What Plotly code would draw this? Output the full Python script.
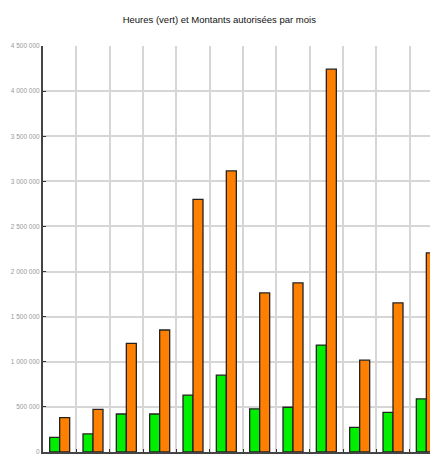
import plotly.graph_objects as go

months = ["2005-01", "2005-02", "2005-03", "2005-04", "2005-05", "2005-06",
          "2005-07", "2005-08", "2005-09", "2005-10", "2005-11", "2005-12"]
heures = [163000, 200000, 421000, 421000, 630000, 852000,
          478000, 496000, 1185000, 274000, 440000, 588000]
montants = [380000, 473000, 1203000, 1352000, 2800000, 3115000,
            1763000, 1874000, 4243000, 1018000, 1652000, 2207000]
y_ticks = [0, 500000, 1000000, 1500000, 2000000, 2500000, 3000000, 3500000, 4000000, 4500000]
y_labels = ["0", "500 000", "1 000 000", "1 500 000", "2 000 000", "2 500 000",
            "3 000 000", "3 500 000", "4 000 000", "4 500 000"]

fig = go.Figure()
fig.add_trace(go.Bar(x=months, y=heures, name="Heures",
                     marker=dict(color="#00ee00", line=dict(color="#222222", width=1.3))))
fig.add_trace(go.Bar(x=months, y=montants, name="Montants",
                     marker=dict(color="#ff8000", line=dict(color="#222222", width=1.3))))

fig.update_layout(
    width=430, height=457,
    margin=dict(l=43, r=0, t=46, b=5),
    paper_bgcolor="white", plot_bgcolor="white",
    barmode="group", bargap=0.4, bargroupgap=0,
    showlegend=False,
    font=dict(family="Liberation Sans, Arial, sans-serif"),
    title=dict(text="Heures (vert) et Montants autorisées par mois",
               x=0.51, xanchor="center", y=0.956, yanchor="middle",
               font=dict(size=9.5, color="#111111")),
)
fig.update_xaxes(
    type="category", range=[-0.5, 11.11],
    showgrid=True, gridcolor="#d6d6d6", gridwidth=1.5,
    tickson="boundaries", ticks="inside", ticklen=3, tickcolor="#333333",
    showline=True, linecolor="#444444", linewidth=1.5,
    tickfont=dict(size=7, color="#999999"), automargin=False,
)
fig.update_yaxes(
    range=[0, 4500000], tickvals=y_ticks, ticktext=y_labels,
    showgrid=True, gridcolor="#d6d6d6", gridwidth=1.5,
    ticks="inside", ticklen=3, tickcolor="#333333",
    showline=True, linecolor="#444444", linewidth=2,
    tickfont=dict(size=6.5, color="#999999"), automargin=False,
    zeroline=False,
)

fig.write_html("out.html", config={"displayModeBar": False},
               post_script="document.body.style.margin='0';document.body.style.overflow='hidden';")
